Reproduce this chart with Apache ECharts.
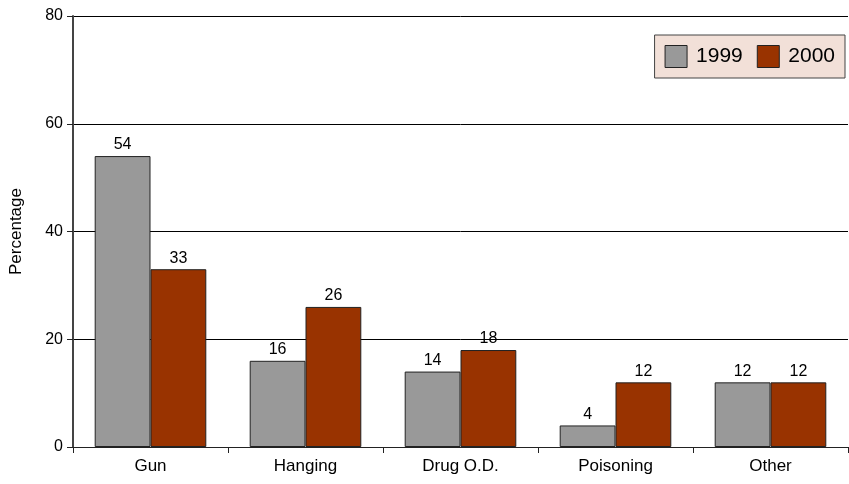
<!DOCTYPE html>
<html>
<head>
<meta charset="utf-8">
<script src="https://cdn.jsdelivr.net/npm/echarts@6/dist/echarts.min.js"></script>
<style>
  html, body { margin: 0; padding: 0; background: #fff; }
  #chart { width: 849px; height: 484px; }
</style>
</head>
<body>
<div id="chart"></div>
<script>
// Method categories and percentages per year
var categories = ['Gun', 'Hanging', 'Drug O.D.', 'Poisoning', 'Other'];
var values1999 = [54, 16, 14, 4, 12];
var values2000 = [33, 26, 18, 12, 12];
var yTicks = [0, 20, 40, 60, 80];

var sans = '"Liberation Sans", Arial, sans-serif';

var chart = echarts.init(document.getElementById('chart'), null, { renderer: 'canvas' });

function barSeries(name, data, color) {
  return {
    name: name,
    type: 'bar',
    data: data,
    barGap: '0%',
    barCategoryGap: '28%',
    itemStyle: { color: color, borderColor: '#222', borderWidth: 1 },
    label: {
      show: true,
      position: 'top',
      distance: 3,
      color: '#000',
      fontFamily: sans,
      fontSize: 16
    }
  };
}

chart.setOption({
  animation: false,
  backgroundColor: '#fff',
  grid: { left: 70, right: 1, top: 16, bottom: 37 },
  legend: {
    right: 4,
    top: 35,
    orient: 'horizontal',
    icon: 'rect',
    itemWidth: 22,
    itemHeight: 22,
    itemGap: 14,
    padding: [10, 10, 10, 10],
    backgroundColor: '#f2e0d8',
    borderColor: '#444',
    borderWidth: 1,
    textStyle: { fontFamily: sans, fontSize: 21, color: '#000', padding: [0, 0, 0, 4] },
    data: [
      { name: '1999', itemStyle: { color: '#999999', borderColor: '#222', borderWidth: 1 } },
      { name: '2000', itemStyle: { color: '#993300', borderColor: '#222', borderWidth: 1 } }
    ]
  },
  xAxis: {
    type: 'category',
    data: categories,
    axisLine: { lineStyle: { color: '#222', width: 1 } },
    axisTick: { show: true, length: 6, alignWithLabel: false, lineStyle: { color: '#222' } },
    axisLabel: { fontFamily: sans, fontSize: 17, color: '#000', margin: 11 }
  },
  yAxis: {
    type: 'value',
    min: yTicks[0],
    max: yTicks[yTicks.length - 1],
    interval: yTicks[1] - yTicks[0],
    name: 'Percentage',
    nameLocation: 'middle',
    nameGap: 48,
    nameTextStyle: { fontFamily: sans, fontSize: 17, color: '#000' },
    axisLine: { show: true, lineStyle: { color: '#444', width: 2 } },
    axisTick: { show: true, length: 6, lineStyle: { color: '#222' } },
    axisLabel: { fontFamily: sans, fontSize: 16, color: '#000', margin: 10 },
    splitLine: { show: true, lineStyle: { color: '#000', width: 1 } }
  },
  series: [
    barSeries('1999', values1999, '#999999'),
    barSeries('2000', values2000, '#993300')
  ]
});
</script>
</body>
</html>
